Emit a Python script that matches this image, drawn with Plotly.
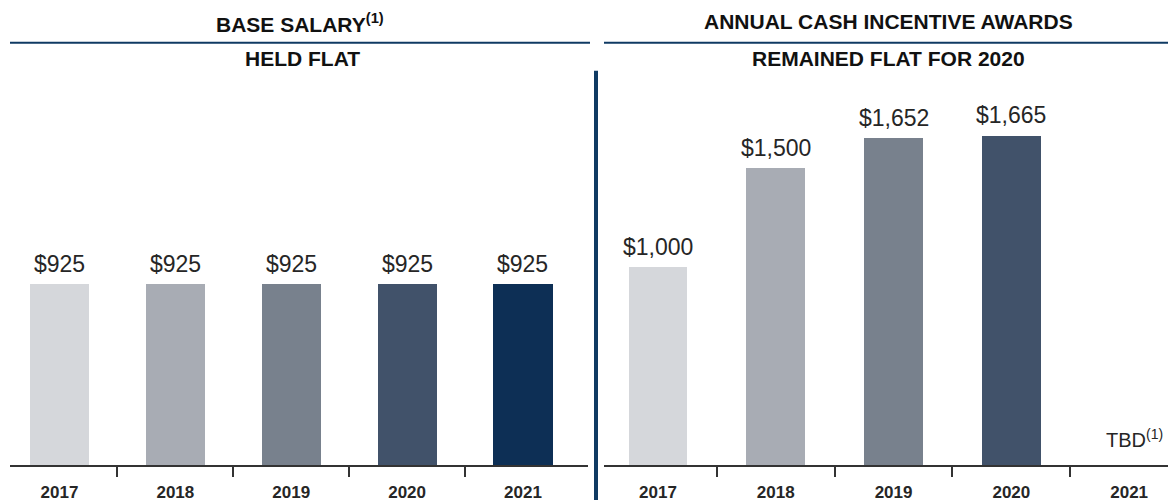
import plotly.graph_objects as go

years = ["2017", "2018", "2019", "2020", "2021"]
base_salary = [925, 925, 925, 925, 925]
cash_years = ["2017", "2018", "2019", "2020"]
cash_incentive = [1000, 1500, 1652, 1665]
pending_year = "2021"
pending_label = "TBD<sup>(1)</sup>"

bar_colors = ["#d5d7db", "#a8acb4", "#78818d", "#41526a", "#0d2f55"]
NAVY = "#0f3a63"
TXT = "#262626"
VAL_FONT = "Liberation Sans, Arial"
LAB_FONT = "Liberation Sans, Arial"

W, H = 1168, 502


def px_x(p):
    return p / W


def px_y(p):
    return (H - p) / H


base_y = 467
top_y = 80

fig = go.Figure()

xl = list(range(len(years)))
fig.add_trace(go.Bar(
    x=xl, y=base_salary, marker=dict(color=bar_colors[:len(years)], line=dict(width=0)),
    width=0.51, xaxis="x", yaxis="y", showlegend=False, hoverinfo="skip"))

xr = list(range(len(cash_years)))
fig.add_trace(go.Bar(
    x=xr, y=cash_incentive, marker=dict(color=bar_colors[:len(cash_years)], line=dict(width=0)),
    width=0.5, xaxis="x2", yaxis="y2", showlegend=False, hoverinfo="skip"))

annotations = []
for i, v in enumerate(base_salary):
    annotations.append(dict(x=i, y=v, xref="x", yref="y", text=f"${v:,}", showarrow=False,
                            xanchor="center", yanchor="bottom", yshift=5,
                            font=dict(family=VAL_FONT, size=23, color=TXT)))
for i, v in enumerate(cash_incentive):
    annotations.append(dict(x=i, y=v, xref="x2", yref="y2", text=f"${v:,}", showarrow=False,
                            xanchor="center", yanchor="bottom", yshift=5,
                            font=dict(family=VAL_FONT, size=23, color=TXT)))
annotations.append(dict(x=len(cash_years), y=0, xref="x2", yref="y2", text=pending_label,
                        showarrow=False, xanchor="center", yanchor="bottom", yshift=12,
                        xshift=5, font=dict(family=VAL_FONT, size=20, color=TXT)))

TITLE_FONT = dict(family="Liberation Sans, Arial", size=21, color="#111111")
annotations += [
    dict(x=px_x(300), y=px_y(23), xref="paper", yref="paper", showarrow=False,
         text="<b>BASE SALARY<sup>(1)</sup></b>", font=TITLE_FONT,
         xanchor="center", yanchor="middle"),
    dict(x=px_x(302), y=px_y(59), xref="paper", yref="paper", showarrow=False,
         text="<b>HELD FLAT</b>", font=TITLE_FONT, xanchor="center", yanchor="middle"),
    dict(x=px_x(888), y=px_y(22), xref="paper", yref="paper", showarrow=False,
         text="<b>ANNUAL CASH INCENTIVE AWARDS</b>", font=TITLE_FONT,
         xanchor="center", yanchor="middle"),
    dict(x=px_x(888), y=px_y(59), xref="paper", yref="paper", showarrow=False,
         text="<b>REMAINED FLAT FOR 2020</b>", font=TITLE_FONT,
         xanchor="center", yanchor="middle"),
]

shapes = [
    dict(type="line", xref="paper", yref="paper", x0=px_x(10), x1=px_x(590),
         y0=px_y(43), y1=px_y(43), line=dict(color=NAVY, width=2)),
    dict(type="line", xref="paper", yref="paper", x0=px_x(604), x1=1,
         y0=px_y(43), y1=px_y(43), line=dict(color=NAVY, width=2)),
    dict(type="rect", xref="paper", yref="paper", x0=px_x(594), x1=px_x(598),
         y0=0, y1=px_y(71), line=dict(width=0), fillcolor=NAVY),
]

axis_common = dict(
    showgrid=False, zeroline=False, showline=True, linecolor="#333333", linewidth=2,
    ticks="outside", ticklen=10, tickcolor="rgba(0,0,0,0)",
    tickfont=dict(family=LAB_FONT, size=17, color=TXT),
)

fig.update_layout(
    width=W, height=H, margin=dict(l=0, r=0, t=0, b=0),
    paper_bgcolor="white", plot_bgcolor="white",
    bargap=0,
    xaxis=dict(domain=[px_x(10), px_x(588)], range=[-0.427, 4.561],
               tickmode="array", tickvals=xl, ticktext=[f"<b>{y}</b>" for y in years],
               minor=dict(tickmode="array", tickvals=[i + 0.5 for i in xl[:-1]],
                          ticks="outside", ticklen=10, tickwidth=2, tickcolor="#333333"),
               anchor="y", **axis_common),
    xaxis2=dict(domain=[px_x(604), 1.0], range=[-0.458, 4.33],
                tickmode="array", tickvals=list(range(len(years))),
                ticktext=[f"<b>{y}</b>" for y in cash_years + [pending_year]],
                minor=dict(tickmode="array", tickvals=[i + 0.5 for i in range(len(years) - 1)],
                           ticks="outside", ticklen=10, tickwidth=2, tickcolor="#333333"),
                anchor="y2", **axis_common),
    yaxis=dict(domain=[px_y(base_y), px_y(top_y)], range=[0, (base_y - top_y) / 0.1968],
               visible=False, anchor="x"),
    yaxis2=dict(domain=[px_y(base_y), px_y(top_y)], range=[0, (base_y - top_y) / 0.1988],
                visible=False, anchor="x2"),
    annotations=annotations,
    shapes=shapes,
)

fig.write_html("out.html", config={"displayModeBar": False})

# remove the default page margin so the figure fills the window exactly
with open("out.html", "r", encoding="utf-8") as f:
    html = f.read()
html = html.replace("<head>", "<head><style>html,body{margin:0;padding:0;overflow:hidden;}</style>", 1)
with open("out.html", "w", encoding="utf-8") as f:
    f.write(html)
